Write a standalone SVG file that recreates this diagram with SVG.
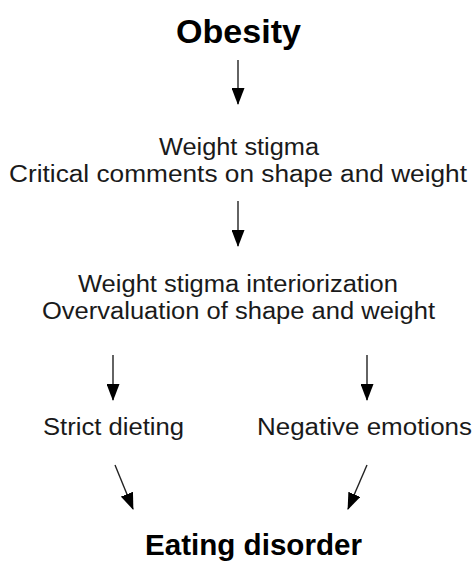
<svg xmlns="http://www.w3.org/2000/svg" width="475" height="566" viewBox="0 0 475 566">
<style>
.t{font-family:"Liberation Sans",Arial,sans-serif;font-size:23.5px;fill:#1a1a1a;text-anchor:middle}
.b{font-family:"Liberation Sans",Arial,sans-serif;font-weight:bold;fill:#000;text-anchor:middle}
.c{stroke:#222;stroke-width:1.4;fill:none;marker-end:url(#ah)}
</style>
<defs>
<marker id="ah" markerUnits="userSpaceOnUse" markerWidth="17" markerHeight="13" refX="16" refY="6.5" orient="auto">
<path d="M0,0 L17,6.5 L0,13 z" fill="#000"/>
</marker>
</defs>
<rect width="475" height="566" fill="#fff"/>
<g id="connectors">
<line class="c" x1="238" y1="60" x2="238" y2="104"/>
<line class="c" x1="238" y1="201" x2="238" y2="246"/>
<line class="c" x1="113" y1="355" x2="113" y2="400"/>
<line class="c" x1="367" y1="355" x2="367" y2="400"/>
<line class="c" x1="115" y1="465" x2="133" y2="509"/>
<line class="c" x1="367" y1="465" x2="348" y2="509"/>
</g>
<g id="obesity"><text class="b" x="238.5" y="43" font-size="33" textLength="125" lengthAdjust="spacingAndGlyphs">Obesity</text></g>
<g id="weight-stigma">
<text class="t" x="239" y="155" textLength="160" lengthAdjust="spacingAndGlyphs">Weight stigma</text>
<text class="t" x="238" y="182" textLength="458" lengthAdjust="spacingAndGlyphs">Critical comments on shape and weight</text>
</g>
<g id="interiorization">
<text class="t" x="238" y="292" textLength="320" lengthAdjust="spacingAndGlyphs">Weight stigma interiorization</text>
<text class="t" x="238.5" y="319" textLength="393" lengthAdjust="spacingAndGlyphs">Overvaluation of shape and weight</text>
</g>
<g id="strict-dieting"><text class="t" x="113.5" y="435" textLength="141" lengthAdjust="spacingAndGlyphs">Strict dieting</text></g>
<g id="negative-emotions"><text class="t" x="364.5" y="435" textLength="215" lengthAdjust="spacingAndGlyphs">Negative emotions</text></g>
<g id="eating-disorder"><text class="b" x="253.5" y="555" font-size="29.5" textLength="217" lengthAdjust="spacingAndGlyphs">Eating disorder</text></g>
</svg>
